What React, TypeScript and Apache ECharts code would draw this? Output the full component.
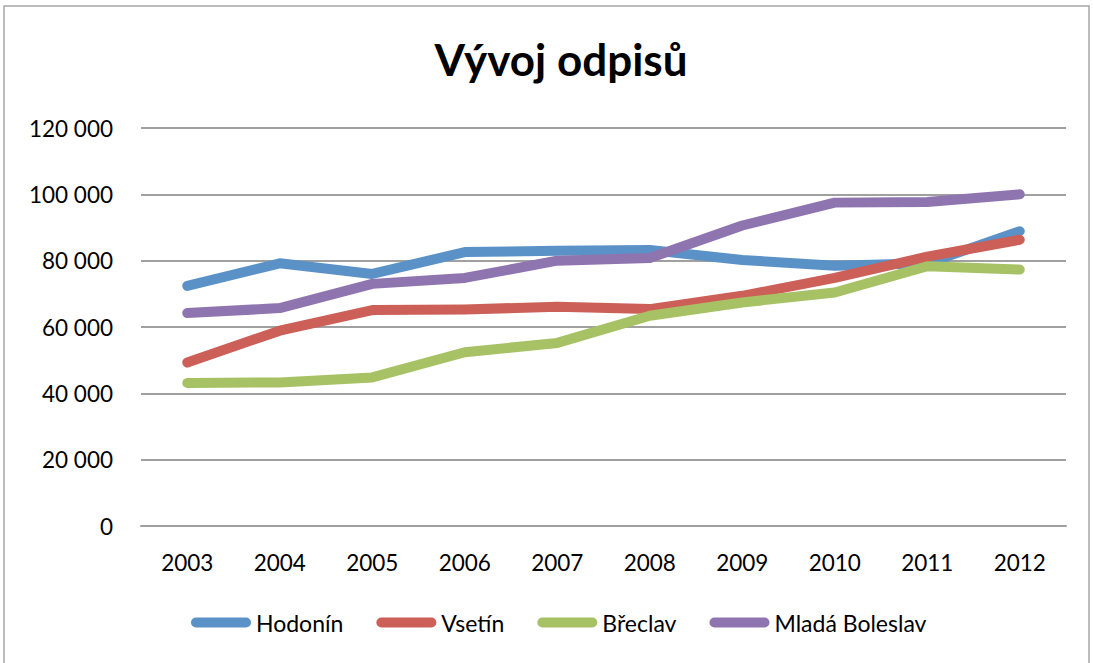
import React, { useEffect, useRef } from "react";
import * as echarts from "echarts";

const years = ["2003", "2004", "2005", "2006", "2007", "2008", "2009", "2010", "2011", "2012"];
const hodonin = [72400, 79200, 76000, 82600, 83000, 83200, 80200, 78500, 79200, 88900];
const vsetin = [49300, 58900, 65100, 65300, 66100, 65400, 69400, 74800, 81200, 86300];
const breclav = [43100, 43300, 44800, 52400, 55200, 63400, 67400, 70400, 78300, 77300];
const boleslav = [64200, 65700, 73000, 74800, 80000, 80800, 90600, 97500, 97700, 100000];
const seriesNames = ["Hodonín", "Vsetín", "Břeclav", "Mladá Boleslav"];
const colors = ["#5A92C8", "#CC5F57", "#A7C264", "#8F75B0"];

const FONT = "Lato, 'Open Sans', sans-serif";

export default function App() {
  const ref = useRef<HTMLDivElement>(null);
  useEffect(() => {
    if (!ref.current) return;
    const chart = echarts.init(ref.current, undefined, { renderer: "svg" });
    const data = [hodonin, vsetin, breclav, boleslav];
    chart.setOption({
      animation: false,
      backgroundColor: "#ffffff",
      title: {
        text: "Vývoj odpisů",
        left: 556,
        top: 32,
        textAlign: "center",
        textStyle: { fontFamily: FONT, fontSize: 44, fontWeight: "bold", color: "#000" },
      },
      graphic: [
        {
          type: "rect",
          shape: { x: 4, y: 6, width: 1085, height: 700 },
          style: { fill: "none", stroke: "#a6a6a6", lineWidth: 1.5 },
          silent: true,
        },
      ],
      legend: {
        top: 606,
        left: 186,
        itemWidth: 60,
        itemHeight: 10,
        itemGap: 33,
        icon: "path://M5,0 H55 A5,5 0 0 1 55,10 H5 A5,5 0 0 1 5,0 Z",
        textStyle: { fontFamily: FONT, fontSize: 23, color: "#000" },
        data: seriesNames,
      },
      grid: { left: 141, right: 27, top: 128, bottom: 137, containLabel: false },
      xAxis: {
        type: "category",
        data: years,
        boundaryGap: true,
        axisLine: { show: true, lineStyle: { color: "#a0a0a0", width: 2 } },
        axisTick: { show: false },
        axisLabel: { margin: 25, fontFamily: FONT, fontSize: 22.5, color: "#000" },
      },
      yAxis: {
        type: "value",
        min: 0,
        max: 120000,
        interval: 20000,
        axisLine: { show: false },
        axisTick: { show: false },
        splitLine: { lineStyle: { color: "#a0a0a0", width: 2 } },
        axisLabel: {
          margin: 28,
          fontFamily: FONT,
          fontSize: 22.5,
          color: "#000",
          formatter: (v: number) => String(v).replace(/\B(?=(\d{3})+(?!\d))/g, " "),
        },
      },
      series: seriesNames.map((name, i) => ({
        name,
        type: "line",
        data: data[i],
        symbol: "none",
        color: colors[i],
        lineStyle: { width: 10, color: colors[i], cap: "round", join: "round" },
      })),
    });
    return () => chart.dispose();
  }, []);
  return (
    <div
      ref={ref}
      style={{ position: "absolute", left: 0, top: 0, width: 1093, height: 663 }}
    />
  );
}
